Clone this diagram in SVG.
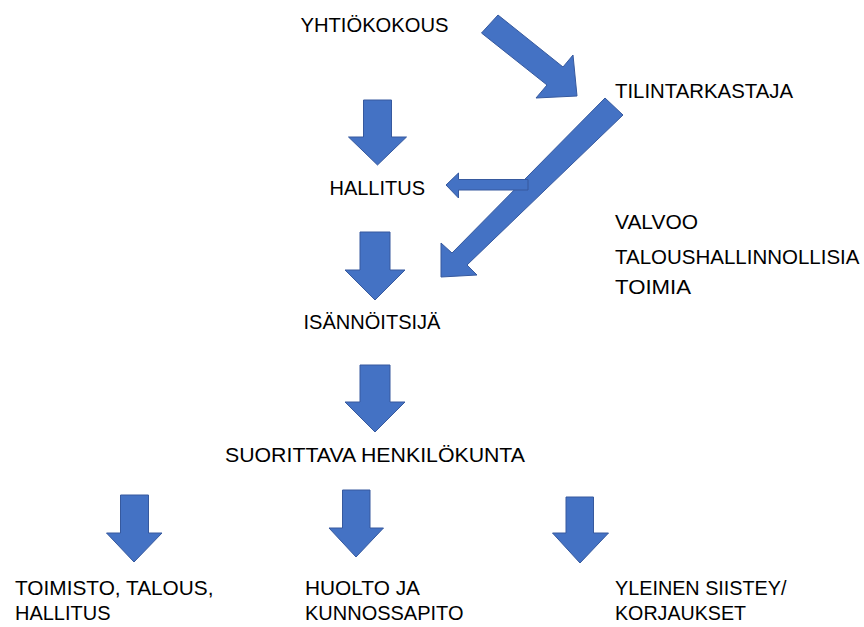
<svg xmlns="http://www.w3.org/2000/svg" width="864" height="627" viewBox="0 0 864 627">
<style>
.t{font-family:"Liberation Sans",Arial,sans-serif;font-size:21px;fill:#000}
.a{fill:#4472C4;stroke:#36599E;stroke-width:1;stroke-linejoin:miter}
</style>
<rect width="864" height="627" fill="#fff"/>
<g id="connectors">
<polygon class="a" points="481.5,33 498,15 563,67 573,55 577,96 536,98 547,85"/>
<polygon class="a" points="605,98 623,115 467,265 477,275 441,277 441,243 452,253"/>
<polygon class="a" points="528,179.5 458.5,179.5 458.5,173 446,185 458.5,198 458.5,190 528,190"/>
<polygon class="a" points="363.5,100 391.5,100 391.5,137 406.5,137 377.5,165 348.5,137 363.5,137"/>
<polygon class="a" points="360,232 390,232 390,270 405,270 375,300 345,270 360,270"/>
<polygon class="a" points="360,365 390,365 390,402 405,402 375,432 345,402 360,402"/>
<polygon class="a" points="120.5,495 148.5,495 148.5,533 162,533 134,562 106.5,533 120.5,533"/>
<polygon class="a" points="342.5,490 370,490 370,528 383.5,528 356,557 329,528 342.5,528"/>
<polygon class="a" points="566,497 593.5,497 593.5,533 608.5,533 580,563 552.5,533 566,533"/>
</g>
<g id="yhtiokokous"><text class="t" x="300.5" y="31.5" textLength="148" lengthAdjust="spacingAndGlyphs">YHTIÖKOKOUS</text></g>
<g id="tilintarkastaja"><text class="t" x="615" y="98" textLength="178" lengthAdjust="spacingAndGlyphs">TILINTARKASTAJA</text></g>
<g id="hallitus"><text class="t" x="329.5" y="195" textLength="95.5" lengthAdjust="spacingAndGlyphs">HALLITUS</text></g>
<g id="valvoo">
<text class="t" x="615" y="228.5" textLength="83" lengthAdjust="spacingAndGlyphs">VALVOO</text>
<text class="t" x="615" y="263.5" textLength="244.5" lengthAdjust="spacingAndGlyphs">TALOUSHALLINNOLLISIA</text>
<text class="t" x="615" y="293.5" textLength="76" lengthAdjust="spacingAndGlyphs">TOIMIA</text>
</g>
<g id="isannoitsija"><text class="t" x="303.5" y="329" textLength="137" lengthAdjust="spacingAndGlyphs">ISÄNNÖITSIJÄ</text></g>
<g id="suorittava"><text class="t" x="225" y="461.5" textLength="300" lengthAdjust="spacingAndGlyphs">SUORITTAVA HENKILÖKUNTA</text></g>
<g id="toimisto">
<text class="t" x="15" y="595" textLength="198.5" lengthAdjust="spacingAndGlyphs">TOIMISTO, TALOUS,</text>
<text class="t" x="15" y="620" textLength="95.5" lengthAdjust="spacingAndGlyphs">HALLITUS</text>
</g>
<g id="huolto">
<text class="t" x="305" y="595" textLength="115" lengthAdjust="spacingAndGlyphs">HUOLTO JA</text>
<text class="t" x="305" y="620" textLength="158.5" lengthAdjust="spacingAndGlyphs">KUNNOSSAPITO</text>
</g>
<g id="yleinen">
<text class="t" x="615" y="595" textLength="171.5" lengthAdjust="spacingAndGlyphs">YLEINEN SIISTEY/</text>
<text class="t" x="615" y="620" textLength="131" lengthAdjust="spacingAndGlyphs">KORJAUKSET</text>
</g>
</svg>
